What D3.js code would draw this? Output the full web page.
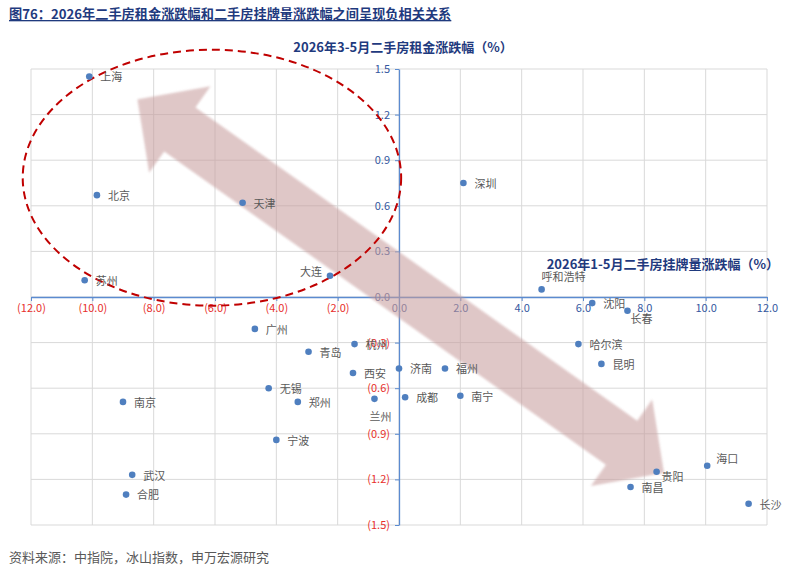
<!DOCTYPE html>
<html>
<head>
<meta charset="utf-8">
<script src="https://cdn.jsdelivr.net/npm/d3@7"></script>
<style>
  body { margin: 0; background: #fff; }
  text { font-family: "Noto Sans CJK SC", "Noto Sans", sans-serif; }
</style>
</head>
<body>
<div id="chart"></div>
<script>
// city list and the two changes (%)
const cities = ['上海', '北京', '天津', '苏州', '大连', '深圳', '呼和浩特', '沈阳', '长春', '广州',
  '杭州', '青岛', '西安', '济南', '福州', '哈尔滨', '昆明', '无锡', '郑州', '兰州',
  '成都', '南宁', '南京', '宁波', '武汉', '合肥', '海口', '贵阳', '南昌', '长沙'];
const listingChange = [-10.1, -9.85, -5.1, -10.25, -2.25, 2.1, 4.65, 6.3, 7.45, -4.7,
  -1.45, -2.95, -1.5, 0.0, 1.5, 5.85, 6.6, -4.25, -3.3, -0.8,
  0.2, 2.0, -9.0, -4.0, -8.7, -8.9, 10.05, 8.4, 7.55, 11.4];
const rentChange = [1.45, 0.67, 0.62, 0.11, 0.14, 0.75, 0.05, -0.04, -0.09, -0.21,
  -0.31, -0.36, -0.5, -0.47, -0.47, -0.31, -0.44, -0.6, -0.69, -0.67,
  -0.66, -0.65, -0.69, -0.94, -1.17, -1.3, -1.11, -1.15, -1.25, -1.36];

const xTicks = [-12, -10, -8, -6, -4, -2, 0, 2, 4, 6, 8, 10, 12];
const yTicks = [-1.5, -1.2, -0.9, -0.6, -0.3, 0, 0.3, 0.6, 0.9, 1.2, 1.5];

const title = '图76：2026年二手房租金涨跌幅和二手房挂牌量涨跌幅之间呈现负相关关系';
const yTitle = '2026年3-5月二手房租金涨跌幅（%）';
const xTitle = '2026年1-5月二手房挂牌量涨跌幅（%）';
const source = '资料来源：中指院，冰山指数，申万宏源研究';

// label nudges for the few names that don't sit to the right of their dot
const labelPos = {
  '大连': { dx: -8, dy: -4, anchor: 'end' },
  '呼和浩特': { dx: 0, dy: -12 },
  '长春': { dx: 3, dy: 8 },
  '兰州': { dx: -5, dy: 18 },
  '贵阳': { dx: 5, dy: 5 },
  '海口': { dx: 9, dy: -7 }
};

const width = 800, height = 570;
const colors = { blue: '#4F7FBF', axis: '#5B8BD0', grid: '#D9D9D9', pos: '#3457A0', neg: '#E8302C',
  navy: '#1F3A7E', label: '#595959', arrow: '#C79C9C', ring: '#C00000' };

const svg = d3.select('#chart').append('svg')
  .attr('width', width).attr('height', height);

svg.append('defs').append('filter').attr('id', 'soft')
  .append('feGaussianBlur').attr('stdDeviation', 1.2);

const x = d3.scaleLinear().domain([-12, 12]).range([31, 767]);
const y = d3.scaleLinear().domain([-1.5, 1.5]).range([525, 69]);

const fmt = v => {
  const s = Math.abs(v).toFixed(1);
  return v < 0 ? '(' + s + ')' : s;
};
const tickColor = v => v < 0 ? colors.neg : (v == 0 ? '#56649A' : colors.pos);

// grid
svg.append('g').selectAll('line').data(xTicks).enter().append('line')
  .attr('x1', d => x(d)).attr('x2', d => x(d))
  .attr('y1', y(1.5)).attr('y2', y(-1.5))
  .attr('stroke', colors.grid);
svg.append('g').selectAll('line').data(yTicks).enter().append('line')
  .attr('y1', d => y(d)).attr('y2', d => y(d))
  .attr('x1', x(-12)).attr('x2', x(12))
  .attr('stroke', colors.grid);

// axes through the origin
const xAxis = svg.append('g')
  .attr('transform', 'translate(0,' + y(0) + ')')
  .call(d3.axisBottom(x).tickValues(xTicks).tickFormat(fmt).tickSize(4).tickPadding(3).tickSizeOuter(0));
const yAxis = svg.append('g')
  .attr('transform', 'translate(' + x(0) + ',0)')
  .call(d3.axisLeft(y).tickValues(yTicks).tickFormat(fmt).tickSize(4).tickPadding(5).tickSizeOuter(0));
[xAxis, yAxis].forEach(a => {
  a.select('.domain').attr('stroke', colors.axis).attr('stroke-width', 1.3);
  a.selectAll('.tick line').attr('stroke', colors.axis);
  a.selectAll('.tick text')
    .style('font-size', '11px')
    .attr('fill', d => tickColor(d));
});

// axis titles
svg.append('text').attr('x', 403).attr('y', 52)
  .attr('text-anchor', 'middle')
  .style('font-size', '13px').style('font-weight', 'bold')
  .attr('fill', colors.navy).text(yTitle);
svg.append('text').attr('x', 779).attr('y', 269)
  .attr('text-anchor', 'end')
  .style('font-size', '13px').style('font-weight', 'bold')
  .attr('fill', colors.navy).text(xTitle);

// big double arrow
const from = [x(-8.53), y(1.3)], to = [x(8.64), y(-1.157)];
const L = Math.hypot(to[0] - from[0], to[1] - from[1]);
const ang = Math.atan2(to[1] - from[1], to[0] - from[0]) * 180 / Math.PI;
const hl = 52, hw = 53, sw = 27;
const arrowPts = [[0, 0], [hl, -hw], [hl, -sw], [L - hl, -sw], [L - hl, -hw], [L, 0],
  [L - hl, hw], [L - hl, sw], [hl, sw], [hl, hw]];
svg.append('path')
  .attr('d', d3.line()(arrowPts) + 'Z')
  .attr('transform', 'translate(' + from[0] + ',' + from[1] + ') rotate(' + ang + ')')
  .attr('fill', colors.arrow)
  .attr('opacity', 0.56)
  .attr('filter', 'url(#soft)');

// dashed ring round the top-left group
svg.append('ellipse')
  .attr('cx', x(-6.1)).attr('cy', y(0.785))
  .attr('rx', x(6.17) - x(0)).attr('ry', y(0) - y(0.842))
  .attr('fill', 'none')
  .attr('stroke', colors.ring)
  .attr('stroke-width', 2)
  .attr('stroke-dasharray', '8,5');

// points and labels
const pts = cities.map((c, i) => ({ name: c, lx: listingChange[i], ry: rentChange[i] }));
svg.append('g').selectAll('circle').data(pts).enter().append('circle')
  .attr('cx', d => x(d.lx)).attr('cy', d => y(d.ry))
  .attr('r', 3.3)
  .attr('fill', colors.blue);
svg.append('g').selectAll('text').data(pts).enter().append('text')
  .attr('x', d => x(d.lx) + (labelPos[d.name] ? labelPos[d.name].dx : 11))
  .attr('y', d => y(d.ry) + (labelPos[d.name] ? labelPos[d.name].dy : 1))
  .attr('dy', '0.35em')
  .attr('text-anchor', d => labelPos[d.name] && labelPos[d.name].anchor ? labelPos[d.name].anchor : 'start')
  .style('font-size', '11px')
  .attr('fill', colors.label)
  .text(d => d.name);

// header and footer
svg.append('text').attr('x', 9).attr('y', 19)
  .style('font-size', '13.2px').style('font-weight', 'bold')
  .style('text-decoration', 'underline')
  .attr('fill', colors.navy).text(title);
svg.append('text').attr('x', 9).attr('y', 562)
  .style('font-size', '13px')
  .attr('fill', colors.label).text(source);
</script>
</body>
</html>
